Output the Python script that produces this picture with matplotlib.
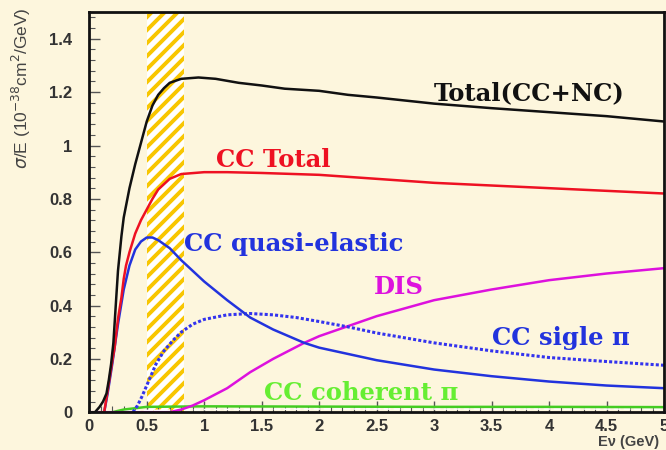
import matplotlib
matplotlib.use("Agg")
import matplotlib.pyplot as plt
from matplotlib.collections import LineCollection
from matplotlib.ticker import MultipleLocator

# ---- data ----
e_total = [0, 0.05, 0.09, 0.12, 0.15, 0.17, 0.19, 0.21, 0.235, 0.25, 0.28, 0.3, 0.35, 0.4, 0.45, 0.5, 0.55, 0.6, 0.65, 0.7, 0.8, 0.95, 1.1, 1.3, 1.5, 1.7, 2.0, 2.25, 2.5, 3.0, 3.5, 4.0, 4.5, 5.0]
v_total = [0, 0.0, 0.02, 0.04, 0.07, 0.12, 0.18, 0.26, 0.43, 0.53, 0.66, 0.73, 0.84, 0.93, 1.01, 1.09, 1.15, 1.19, 1.215, 1.235, 1.25, 1.255, 1.25, 1.235, 1.225, 1.213, 1.205, 1.19, 1.18, 1.157, 1.14, 1.125, 1.11, 1.09]

e_cc = [0.1, 0.13, 0.16, 0.2, 0.22, 0.25, 0.28, 0.3, 0.32, 0.35, 0.4, 0.45, 0.5, 0.55, 0.6, 0.7, 0.8, 1.0, 1.2, 1.5, 2.0, 2.5, 3.0, 3.5, 4.0, 4.5, 5.0]
v_cc = [0, 0, 0.08, 0.19, 0.24, 0.35, 0.43, 0.5, 0.55, 0.6, 0.67, 0.72, 0.76, 0.8, 0.835, 0.875, 0.893, 0.9, 0.9, 0.897, 0.89, 0.875, 0.86, 0.85, 0.84, 0.83, 0.82]

e_qe = [0.13, 0.16, 0.2, 0.25, 0.3, 0.35, 0.4, 0.45, 0.5, 0.55, 0.6, 0.7, 0.8, 0.9, 1.0, 1.2, 1.4, 1.6, 1.87, 2.0, 2.5, 3.0, 3.5, 4.0, 4.5, 5.0]
v_qe = [0, 0.07, 0.18, 0.33, 0.46, 0.55, 0.61, 0.64, 0.655, 0.655, 0.645, 0.615, 0.57, 0.53, 0.49, 0.42, 0.355, 0.31, 0.26, 0.242, 0.195, 0.16, 0.135, 0.115, 0.1, 0.09]

e_pi = [0.38, 0.42, 0.46, 0.5, 0.58, 0.65, 0.73, 0.8, 0.9, 1.0, 1.2, 1.4, 1.6, 1.8, 2.0, 2.25, 2.5, 3.0, 3.5, 4.0, 4.5, 5.0]
v_pi = [0, 0.025, 0.06, 0.1, 0.18, 0.23, 0.27, 0.3, 0.33, 0.348, 0.365, 0.37, 0.365, 0.355, 0.34, 0.32, 0.297, 0.26, 0.23, 0.205, 0.19, 0.176]

e_dis = [0.0, 0.7, 0.8, 0.9, 1.0, 1.2, 1.4, 1.6, 1.87, 2.0, 2.5, 3.0, 3.5, 4.0, 4.5, 5.0]
v_dis = [0.0, 0.0, 0.01, 0.025, 0.045, 0.09, 0.15, 0.2, 0.26, 0.285, 0.36, 0.42, 0.46, 0.495, 0.52, 0.54]

e_coh = [0.2, 0.3, 0.5, 1.0, 2.0, 3.0, 4.0, 5.0]
v_coh = [0.0, 0.01, 0.02, 0.022, 0.021, 0.02, 0.02, 0.019]

e_nc = [0.3, 1.0, 2.0, 3.0, 4.0, 5.0]
v_nc = [0.005, 0.01, 0.012, 0.012, 0.012, 0.012]

band = (0.5, 0.82)

x_ticks = [0, 0.5, 1, 1.5, 2, 2.5, 3, 3.5, 4, 4.5, 5]
x_ticklabels = ["0", "0.5", "1", "1.5", "2", "2.5", "3", "3.5", "4", "4.5", "5"]
y_ticks = [0, 0.2, 0.4, 0.6, 0.8, 1.0, 1.2, 1.4]
y_ticklabels = ["0", "0.2", "0.4", "0.6", "0.8", "1", "1.2", "1.4"]

bg = "#fdf6dd"
fig = plt.figure(figsize=(6.66, 4.5), dpi=100, facecolor=bg)
ax = fig.add_axes([0.134, 0.084, 0.863, 0.889], facecolor=bg)

# hatched band: white span with diagonal yellow stripes (decoration), clipped to the span
span = ax.axvspan(band[0], band[1], ymin=0, ymax=1, facecolor="white", linewidth=0, zorder=1)
stripe_period_in = 0.13          # inches between stripes (horizontal)
fig_w, fig_h = fig.get_size_inches()
segs = []
k = -40
while k < 80:
    x0 = k * stripe_period_in
    segs.append([(x0, 0.0), (x0 + fig_h, fig_h)])
    k += 1
stripes = LineCollection(segs, colors="#f8c600", linewidths=2.8, transform=fig.dpi_scale_trans, zorder=1.5)
ax.add_collection(stripes, autolim=False)
stripes.set_clip_path(span)

lw = 1.8
ax.plot(e_nc, v_nc, color="white", lw=1.2, ls=(0, (4, 2)), zorder=2)
ax.plot(e_coh, v_coh, color="#44cc22", lw=lw, zorder=2)
ax.plot(e_dis, v_dis, color="#dd11dd", lw=lw, zorder=3)
ax.plot(e_pi, v_pi, color="#3333ee", lw=2.2, ls=(0, (1, 0.7)), zorder=3)
ax.plot(e_qe, v_qe, color="#2233dd", lw=lw, zorder=3)
ax.plot(e_cc, v_cc, color="#ee1122", lw=lw, zorder=4)
ax.plot(e_total, v_total, color="#111111", lw=lw, zorder=5)

ax.set_xlim(0, 5)
ax.set_ylim(0, 1.5)
ax.set_xticks(x_ticks)
ax.set_xticklabels(x_ticklabels)
ax.set_yticks(y_ticks)
ax.set_yticklabels(y_ticklabels)
ax.xaxis.set_minor_locator(MultipleLocator(0.1))
ax.yaxis.set_minor_locator(MultipleLocator(0.04))
ax.tick_params(which="major", direction="in", length=8, width=1, colors="#555555", labelcolor="#333333", top=False, right=False)
ax.tick_params(which="minor", direction="in", length=4, width=0.8, colors="#555555", top=False, right=False)
for lab in ax.get_xticklabels() + ax.get_yticklabels():
    lab.set_fontfamily("Liberation Sans")
    lab.set_fontweight("bold")
    lab.set_fontsize(12)
ax.tick_params(axis="y", pad=12)
ax.tick_params(axis="x", pad=5)
for s in ax.spines.values():
    s.set_linewidth(2)
    s.set_color("#111111")
    s.set_zorder(6)

serif = "DejaVu Serif"
fs = 17.5
ax.text(3.0, 1.195, "Total(CC+NC)", color="#111111", fontsize=fs, fontweight="bold", family=serif, ha="left", va="center")
ax.text(1.107, 0.944, "CC Total", color="#ee1122", fontsize=fs, fontweight="bold", family=serif, ha="left", va="center")
ax.text(0.82, 0.63, "CC quasi-elastic", color="#2233dd", fontsize=fs, fontweight="bold", family=serif, ha="left", va="center")
ax.text(2.476, 0.468, "DIS", color="#dd11dd", fontsize=fs, fontweight="bold", family=serif, ha="left", va="center")
ax.text(3.5, 0.277, "CC sigle \u03c0", color="#2233dd", fontsize=fs, fontweight="bold", family=serif, ha="left", va="center")
ax.text(1.517, 0.071, "CC coherent \u03c0", color="#66ee33", fontsize=fs, fontweight="bold", family=serif, ha="left", va="center")

fig.text(0.032, 0.805, r"$\sigma$/E (10$^{-38}$cm$^{2}$/GeV)", rotation=90, ha="center", va="center", fontsize=12.5, color="#444444", family="Liberation Sans")
fig.text(0.99, 0.018, "E\u03bd (GeV)", ha="right", va="center", fontsize=10.5, fontweight="bold", color="#444444", family="Liberation Sans")

fig.savefig("out.png", dpi=100, facecolor=bg)
